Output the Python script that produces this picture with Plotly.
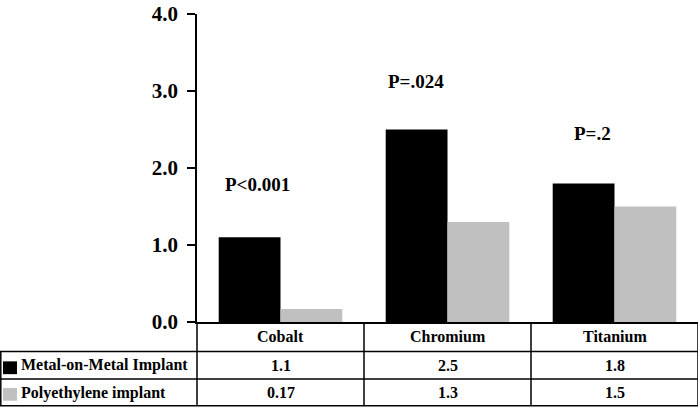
import plotly.graph_objects as go

categories = ["Cobalt", "Chromium", "Titanium"]
series_names = ["Metal-on-Metal Implant", "Polyethylene implant"]
mom_values = [1.1, 2.5, 1.8]
poly_values = [0.17, 1.3, 1.5]
mom_labels = ["1.1", "2.5", "1.8"]
poly_labels = ["0.17", "1.3", "1.5"]
p_labels = ["P<0.001", "P=.024", "P=.2"]
p_heights = [1.78, 3.12, 2.45]
y_ticks = [0, 1, 2, 3, 4]
y_tick_labels = ["0.0", "1.0", "2.0", "3.0", "4.0"]

W, H = 700, 408
L, R, T, B = 197, 2, 9, 86
plot_h = H - T - B
FONT = "Liberation Serif"
BLACK = "#000000"
GRAY = "#c0c0c0"
P_XOFF = [-0.14, -0.19, -0.13]


def py(pix):
    """pixel row -> paper y"""
    return (H - B - pix) / plot_h


def px(pix):
    return (pix - L) / (W - L - R)


fig = go.Figure()
fig.add_trace(go.Bar(x=categories, y=mom_values, name=series_names[0],
                     marker=dict(color=BLACK, line=dict(width=0))))
fig.add_trace(go.Bar(x=categories, y=poly_values, name=series_names[1],
                     marker=dict(color=GRAY, line=dict(width=0))))

shapes = []
lw = 1.5
# table horizontal lines
for yy in [352, 380, 407]:
    shapes.append(dict(type="line", xref="paper", yref="paper",
                       x0=px(0), x1=1, y0=py(yy), y1=py(yy),
                       line=dict(color="black", width=lw)))
# left edge of rows
shapes.append(dict(type="line", xref="paper", yref="paper",
                   x0=px(0.8), x1=px(0.8), y0=py(352), y1=py(407),
                   line=dict(color="black", width=lw)))
# y axis extension down through table
shapes.append(dict(type="line", xref="paper", yref="paper",
                   x0=0, x1=0, y0=0, y1=py(407),
                   line=dict(color="black", width=lw)))
# category separators and right edge
for xx in [0.5, 1.5, 2.5]:
    shapes.append(dict(type="line", xref="x", yref="paper",
                       x0=xx, x1=xx, y0=0, y1=py(407),
                       line=dict(color="black", width=lw)))
# legend squares
shapes.append(dict(type="rect", xref="paper", yref="paper",
                   x0=px(3), x1=px(17), y0=py(375), y1=py(362),
                   fillcolor=BLACK, line=dict(width=0)))
shapes.append(dict(type="rect", xref="paper", yref="paper",
                   x0=px(3), x1=px(17), y0=py(402), y1=py(389),
                   fillcolor=GRAY, line=dict(width=0)))

annotations = []
tfont = dict(family=FONT, size=16, color="black", weight="bold")
for i, c in enumerate(categories):
    annotations.append(dict(x=c, y=py(337), xref="x", yref="paper", text=c,
                            showarrow=False, font=tfont, xanchor="center", yanchor="middle"))
    annotations.append(dict(x=c, y=py(366), xref="x", yref="paper", text=mom_labels[i],
                            showarrow=False, font=tfont, xanchor="center", yanchor="middle"))
    annotations.append(dict(x=c, y=py(394), xref="x", yref="paper", text=poly_labels[i],
                            showarrow=False, font=tfont, xanchor="center", yanchor="middle"))
    annotations.append(dict(x=i + P_XOFF[i], y=p_heights[i], xref="x", yref="y", text=p_labels[i],
                            showarrow=False, font=dict(family=FONT, size=19, color="black", weight="bold"),
                            xanchor="center", yanchor="middle"))
annotations.append(dict(x=px(19), y=py(366), xref="paper", yref="paper", text=series_names[0],
                        showarrow=False, font=tfont, xanchor="left", yanchor="middle"))
annotations.append(dict(x=px(19), y=py(394), xref="paper", yref="paper", text=series_names[1],
                        showarrow=False, font=tfont, xanchor="left", yanchor="middle"))

fig.update_layout(
    width=W, height=H,
    margin=dict(l=L, r=R, t=T, b=B, pad=0),
    plot_bgcolor="white", paper_bgcolor="white",
    barmode="group", bargap=0.26, bargroupgap=0,
    showlegend=False,
    shapes=shapes, annotations=annotations,
    xaxis=dict(range=[-0.5, 2.5], showticklabels=False, ticks="", showline=True,
               linecolor="black", linewidth=lw, showgrid=False, zeroline=False, fixedrange=True),
    yaxis=dict(range=[0, 4], tickvals=y_ticks, ticktext=y_tick_labels, ticks="outside",
               ticklen=8, tickwidth=lw, tickcolor="black", showline=True, linecolor="black",
               linewidth=lw, showgrid=False, zeroline=False, ticklabelstandoff=5,
               ticklabeloverflow="allow",
               tickfont=dict(family=FONT, size=21, color="black", weight="bold")),
)

fig.write_html("out.html", config={"displayModeBar": False},
               post_script="document.body.style.margin='0';document.body.style.overflow='hidden';")
